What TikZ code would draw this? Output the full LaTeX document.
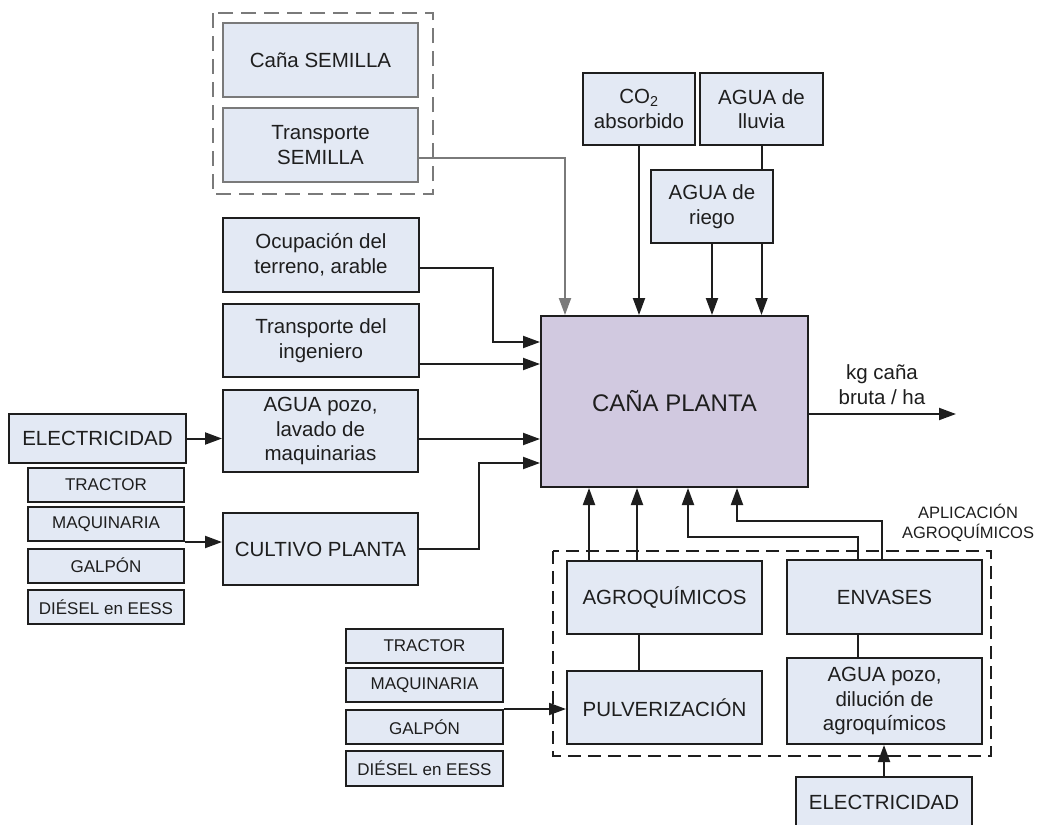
\documentclass[tikz,border=0pt]{standalone}
\usepackage{fontspec}
\setmainfont{Liberation Sans}
\usetikzlibrary{arrows.meta,calc}
\definecolor{boxfill}{HTML}{E3E9F4}
\definecolor{canafill}{HTML}{D1C9E0}
\definecolor{edge}{HTML}{1E1E1E}
\definecolor{txt}{HTML}{1E1E1E}
\definecolor{grayedge}{HTML}{7A7A7A}
\begin{document}
\begin{tikzpicture}[x=1pt,y=-1pt,
  box/.style={draw=edge, fill=boxfill, line width=2pt, inner sep=0pt, align=center,
    text=txt, font=\fontsize{20.5}{24.5}\selectfont},
  smallbox/.style={box, font=\fontsize{17}{20}\selectfont, minimum width=156pt, minimum height=34pt},
  graybox/.style={box, draw=grayedge},
  canabox/.style={box, fill=canafill, font=\fontsize{24}{28}\selectfont},
  ln/.style={line width=2pt, draw=edge},
  arr/.style={ln, -{Triangle[length=17pt,width=12pt]}},
  grayarr/.style={arr, draw=grayedge},
  groupdash/.style={line width=2.2pt, dash pattern=on 13pt off 7pt},
  lbl/.style={text=txt, align=center, inner sep=0pt}
]
\useasboundingbox (0,0) rectangle (1042,825);
\fill[white] (0,0) rectangle (1042,825);
\clip (0,0) rectangle (1042,825);

% group frames
\draw[groupdash, draw=grayedge, dash pattern=on 15pt off 8pt] (213,13) rectangle (433,194);
\draw[groupdash, draw=edge] (553,551) rectangle (991,756);

% top-left group
\node[graybox, minimum width=195pt, minimum height=74pt] (semilla) at (320.5,60) {Caña SEMILLA};
\node[graybox, minimum width=195pt, minimum height=74pt] (transS) at (320.5,145) {Transporte\\SEMILLA};

% top inputs
\node[box, minimum width=112pt, minimum height=72pt] (co2) at (639,109) {CO\textsubscript{2}\\absorbido};
\node[box, minimum width=123pt, minimum height=72pt] (lluvia) at (761.5,109) {AGUA de\\lluvia};
\node[box, minimum width=122pt, minimum height=73pt] (riego) at (712,206.5) {AGUA de\\riego};

% left inputs
\node[box, minimum width=196pt, minimum height=74pt] (ocup) at (321,255) {Ocupación del\\terreno, arable};
\node[box, minimum width=196pt, minimum height=73pt] (ingen) at (321,340.5) {Transporte del\\ingeniero};
\node[box, minimum width=195pt, minimum height=82pt] (aguapozo) at (320.5,431) {AGUA pozo,\\lavado de\\maquinarias};
\node[box, minimum width=195pt, minimum height=72pt] (cultivo) at (320.5,549) {CULTIVO PLANTA};

\node[box, minimum width=177pt, minimum height=49pt] (elec1) at (97.5,438.5) {ELECTRICIDAD};
\node[smallbox] (tractor1) at (106,485) {TRACTOR};
\node[smallbox] (maq1) at (106,524) {MAQUINARIA};
\node[smallbox] (galpon1) at (106,565.5) {GALPÓN};
\node[smallbox] (diesel1) at (106,607) {DIÉSEL en EESS};

% central box
\node[canabox, minimum width=267pt, minimum height=171pt] (cana) at (674.5,401.5) {CAÑA PLANTA};

% bottom group
\node[box, minimum width=195pt, minimum height=73pt] (agro) at (664.5,597.5) {AGROQUÍMICOS};
\node[box, minimum width=195pt, minimum height=73pt] (pulv) at (664.5,707.5) {PULVERIZACIÓN};
\node[box, minimum width=195pt, minimum height=74pt] (envases) at (884.5,597) {ENVASES};
\node[box, minimum width=195pt, minimum height=86pt] (aguadil) at (884.5,701) {AGUA pozo,\\dilución de\\agroquímicos};

\node[smallbox, minimum width=157pt] (tractor2) at (424.5,646) {TRACTOR};
\node[smallbox, minimum width=157pt] (maq2) at (424.5,685) {MAQUINARIA};
\node[smallbox, minimum width=157pt] (galpon2) at (424.5,727) {GALPÓN};
\node[smallbox, minimum width=157pt, minimum height=35pt] (diesel2) at (424.5,768.5) {DIÉSEL en EESS};

\node[box, minimum width=176pt, minimum height=50pt] (elec2) at (884,802) {ELECTRICIDAD};

% labels
\node[lbl, font=\fontsize{20.5}{25}\selectfont] (outlbl) at (882,385) {kg caña\\bruta / ha};
\node[lbl, font=\fontsize{16.5}{20}\selectfont] (aplic) at (968,523) {APLICACIÓN\\AGROQUÍMICOS};

% connectors: top
\draw[grayarr] ([yshift=-13pt]transS.east) -| ([xshift=25pt]cana.north west);
\draw[arr] (co2.south) -- (co2.south |- cana.north);
\draw[ln] (lluvia.south) -- (lluvia.south |- riego.north);
\draw[arr] (riego.south) -- (riego.south |- cana.north);
\coordinate (rr) at (riego.south -| lluvia.south);
\draw[arr] (rr) -- (rr |- cana.north);

% connectors: left
\draw[arr] ([yshift=-13pt]ocup.east) -- ++(73,0) |- ([yshift=59.5pt]cana.west);
\draw[arr] ([yshift=-23.5pt]ingen.east) -- ([yshift=37.5pt]cana.west);
\draw[arr] ([yshift=-8pt]aguapozo.east) -- ([yshift=-37.5pt]cana.west);
\draw[arr] (cultivo.east) -- ++(60,0) |- ([yshift=-61.5pt]cana.west);
\draw[arr] (elec1.east) -- (elec1.east -| aguapozo.west);
\draw[arr] (maq1.south east) -- (maq1.south east -| cultivo.west);

% output
\draw[arr] ([yshift=-12.5pt]cana.east) -- ++(147,0);

% connectors: bottom
\coordinate (a1) at ([xshift=23pt]agro.north west);
\coordinate (a2) at ([xshift=71pt]agro.north west);
\draw[arr] (a1) -- (a1 |- cana.south);
\draw[arr] (a2) -- (a2 |- cana.south);
\draw[ln] ([xshift=-25.5pt]agro.south) -- ([xshift=-25.5pt]pulv.north);
\coordinate (e1) at ([xshift=72pt]envases.north west);
\coordinate (e2) at ([xshift=96pt]envases.north west);
\draw[arr] (e1) -- ++(0,-22) -| ([xshift=13.5pt]cana.south);
\draw[arr] (e2) -- ++(0,-38) -| ([xshift=62.5pt]cana.south);
\draw[ln] ([xshift=72pt]envases.south west) -- ([xshift=72pt]aguadil.north west);
\draw[arr] (elec2.north) -- (elec2.north |- aguadil.south);
\draw[arr] ([yshift=-6pt]maq2.south east) -- ([yshift=-6pt]maq2.south east -| pulv.west);
\end{tikzpicture}
\end{document}
